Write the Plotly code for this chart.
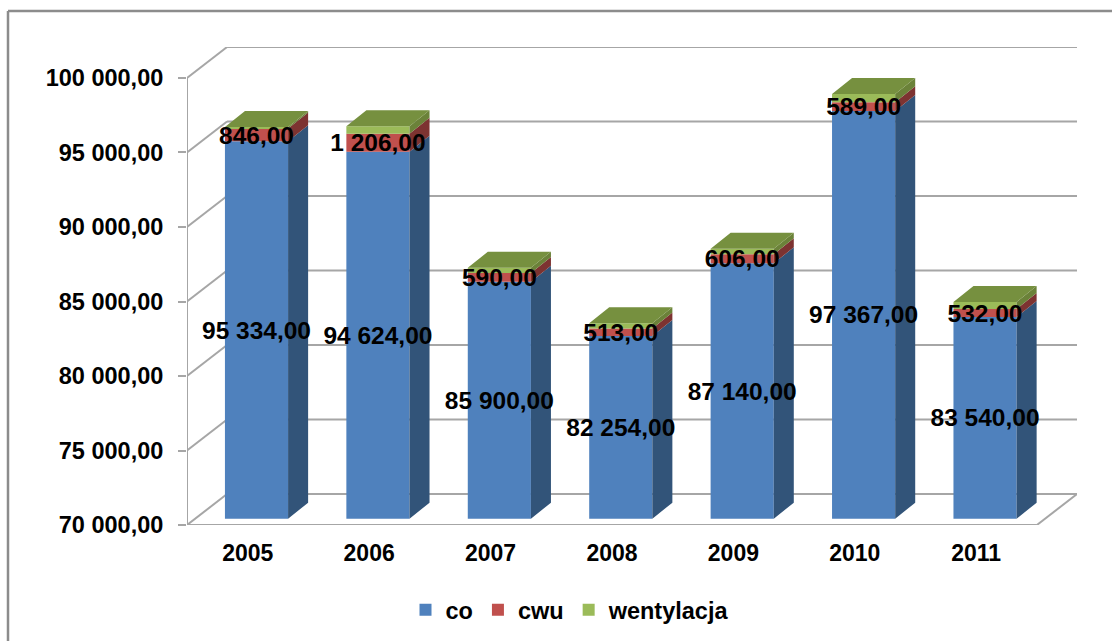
import plotly.graph_objects as go

years = ["2005", "2006", "2007", "2008", "2009", "2010", "2011"]
co = [95334, 94624, 85900, 82254, 87140, 97367, 83540]
cwu = [846, 1206, 590, 513, 606, 589, 532]
wentylacja = [110, 505, 350, 350, 375, 540, 470]
y_ticks = [70000, 75000, 80000, 85000, 90000, 95000, 100000]

FONT = "Liberation Sans"
GRID = "#A6A6A6"
Y_MIN, Y_MAX = 70000, 100000
WALL_DX, WALL_DY = 0.33, 2080      # depth of the chart floor in axis units
BAR_W = 0.52
BAR_SHIFT_X, BAR_SHIFT_Y = 0.0725, 423
BAR_DX, BAR_DY = 0.165, 1074       # depth of a bar in axis units
LABEL_NUDGE = 170                  # data labels sit slightly under the segment centre
N = len(years)


def fmt(v):
    return f"{v:,}".replace(",", " ") + ",00"


xs = [i + BAR_SHIFT_X for i in range(N)]
b0 = [Y_MIN + BAR_SHIFT_Y] * N
blue_top = [BAR_SHIFT_Y + c for c in co]
red_top = [t + c for t, c in zip(blue_top, cwu)]
green_top = [t + c for t, c in zip(red_top, wentylacja)]

fig = go.Figure()

fig.add_bar(x=xs, y=[t - b for t, b in zip(blue_top, b0)], base=b0, width=BAR_W, name="co",
            marker=dict(color="#4F81BD", line_width=0), hoverinfo="skip")
fig.add_bar(x=xs, y=cwu, base=blue_top, width=BAR_W, name="cwu",
            marker=dict(color="#C0504D", line_width=0), hoverinfo="skip")
fig.add_bar(x=xs, y=wentylacja, base=red_top, width=BAR_W, name="wentylacja",
            marker=dict(color="#9BBB59", line_width=0), hoverinfo="skip")


def side(lows, highs):
    px, py = [], []
    for x, lo, hi in zip(xs, lows, highs):
        r = x + BAR_W / 2
        px += [r, r + BAR_DX, r + BAR_DX, r, r, None]
        py += [lo, lo + BAR_DY, hi + BAR_DY, hi, lo, None]
    return px, py


for lows, highs, col in [(b0, blue_top, "#325479"), (blue_top, red_top, "#7D3331"),
                         (red_top, green_top, "#6B8239")]:
    px, py = side(lows, highs)
    fig.add_scatter(x=px, y=py, mode="lines", fill="toself", fillcolor=col,
                    line=dict(width=0, color=col), showlegend=False, hoverinfo="skip")

tx, ty = [], []
for x, t in zip(xs, green_top):
    l, r = x - BAR_W / 2, x + BAR_W / 2
    tx += [l, r, r + BAR_DX, l + BAR_DX, l, None]
    ty += [t, t, t + BAR_DY, t + BAR_DY, t, None]
fig.add_scatter(x=tx, y=ty, mode="lines", fill="toself", fillcolor="#76903F",
                line=dict(width=0, color="#76903F"), showlegend=False, hoverinfo="skip")

label_font = dict(family=FONT, size=24.5, color="#000000", weight="bold")
fig.add_scatter(x=xs, y=[(a + b) / 2 - LABEL_NUDGE for a, b in zip(b0, blue_top)], mode="text",
                text=[fmt(v) for v in co], textposition="middle center",
                textfont=label_font, showlegend=False, hoverinfo="skip")
fig.add_scatter(x=xs, y=[(a + b) / 2 - LABEL_NUDGE for a, b in zip(blue_top, red_top)], mode="text",
                text=[fmt(v) for v in cwu], textposition="middle center",
                textfont=label_font, showlegend=False, hoverinfo="skip")

# 3-D walls and floor, placed behind the bars
shapes = []
x0, x1 = -0.5, N - 0.5


def seg(xa, ya, xb, yb, color=GRID, width=2):
    return dict(type="line", xref="x", yref="y", x0=xa, y0=ya, x1=xb, y1=yb,
                layer="below", line=dict(color=color, width=width))


for v in y_ticks:
    shapes.append(seg(x0 + WALL_DX, v + WALL_DY, x1 + WALL_DX, v + WALL_DY))
    shapes.append(seg(x0, v, x0 + WALL_DX, v + WALL_DY))
shapes.append(seg(x0, Y_MIN, x0, Y_MAX))
shapes.append(seg(x0, Y_MIN, x1, Y_MIN))
shapes.append(seg(x1, Y_MIN, x1 + WALL_DX, Y_MIN + WALL_DY))

# outer chart frame (left and top edges only are inside the picture)
FRAME = "#8C8C8C"
PLOT_L, PLOT_W, PLOT_T, PLOT_H = 187, 890, 47, 478
fx = (8 - PLOT_L) / PLOT_W
fy = 1 - (11 - PLOT_T) / PLOT_H
shapes.append(dict(type="line", xref="paper", yref="paper", x0=fx, x1=fx, y0=fy, y1=-0.3,
                   line=dict(color=FRAME, width=2.5)))
shapes.append(dict(type="line", xref="paper", yref="paper", x0=fx, x1=1.1, y0=fy, y1=fy,
                   line=dict(color=FRAME, width=2.5)))

fig.update_layout(
    width=1112, height=641, autosize=False,
    margin=dict(l=PLOT_L, r=1112 - PLOT_L - PLOT_W, t=PLOT_T, b=641 - PLOT_T - PLOT_H, pad=0),
    paper_bgcolor="#FFFFFF", plot_bgcolor="rgba(0,0,0,0)",
    barmode="overlay", shapes=shapes, showlegend=True,
    xaxis=dict(range=[x0, x1 + WALL_DX], tickmode="array", tickvals=list(range(N)), ticktext=years,
               showgrid=False, zeroline=False, showline=False, ticks="outside", ticklen=7,
               tickcolor="rgba(0,0,0,0)", automargin=False,
               tickfont=dict(family=FONT, size=23, color="#000000", weight="bold")),
    yaxis=dict(range=[Y_MIN, Y_MAX + WALL_DY], tickmode="array", tickvals=y_ticks,
               ticktext=[fmt(v) for v in y_ticks], showgrid=False, zeroline=False, showline=False,
               ticks="outside", ticklen=8, tickwidth=2, tickcolor=GRID, automargin=False,
               tickfont=dict(family=FONT, size=23.5, color="#000000", weight="bold"),
               ticklabelstandoff=10),
    legend=dict(orientation="h", xref="container", yref="container", x=570 / 1112, xanchor="center",
                y=1 - 610 / 641, yanchor="middle",
                font=dict(family=FONT, size=23.5, color="#000000", weight="bold"),
                bgcolor="rgba(0,0,0,0)", itemclick=False, itemdoubleclick=False),
)

fig.write_html("out.html", config=dict(displayModeBar=False),
               post_script="document.body.style.margin='0';")
